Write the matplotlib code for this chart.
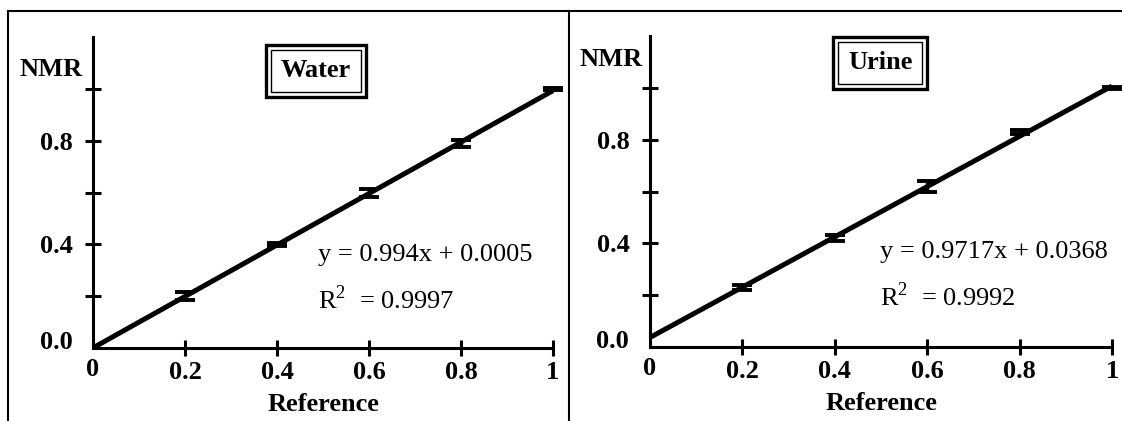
import matplotlib
matplotlib.use('Agg')
import matplotlib.pyplot as plt
from matplotlib.lines import Line2D

plt.rcParams['font.family'] = ['Liberation Serif', 'DejaVu Serif']
plt.rcParams['mathtext.fontset'] = 'custom'
plt.rcParams['mathtext.rm'] = 'Liberation Serif'

# Reference concentration vs NMR estimate, two matrices
ref_x = [0.2, 0.4, 0.6, 0.8, 1.0]

water_y = [0.20, 0.40, 0.60, 0.79, 1.00]
water_err = [0.015, 0.006, 0.015, 0.015, 0.005]
water_slope, water_icpt, water_r2 = 0.994, 0.0005, 0.9997

urine_y = [0.23, 0.42, 0.62, 0.83, 1.00]
urine_err = [0.008, 0.012, 0.02, 0.008, 0.005]
urine_slope, urine_icpt, urine_r2 = 0.9717, 0.0368, 0.9992

x_ticks = [0.2, 0.4, 0.6, 0.8, 1.0]
x_ticklabels = ['0.2', '0.4', '0.6', '0.8', '1']
y_ticks = [0.2, 0.4, 0.6, 0.8, 1.0]
y_ticklabels = ['', '0.4', '', '0.8', '']

W, H = 1122, 421
FS = 19
fig = plt.figure(figsize=(W / 100, H / 100), dpi=100)

PANELS = [
    # name, y, err, slope, icpt, r2, axes rect (px), nmr pos, box pos, eq pos
    ('Water', water_y, water_err, water_slope, water_icpt, water_r2,
     (93, 348, 460), (-0.023, 1.075), (0.485, 1.072), (0.489, 0.36, 0.186)),
    ('Urine', urine_y, urine_err, urine_slope, urine_icpt, urine_r2,
     (650, 347, 462), (-0.017, 1.11), (0.498, 1.098), (0.498, 0.367, 0.193)),
]

for name, y, err, slope, icpt, r2, (x0, y0, w), nmr, box, eq in PANELS:
    ax = fig.add_axes([x0 / W, (H - y0) / H, w / W, 1.2 * 258.8 / H])
    ax.set_xlim(0, 1)
    ax.set_ylim(0, 1.2)
    for side in ('top', 'right'):
        ax.spines[side].set_visible(False)
    ax.spines['bottom'].set_bounds(0, 1)
    for side in ('left', 'bottom'):
        ax.spines[side].set_linewidth(2.2)

    ax.plot([0, 1], [icpt, slope + icpt], color='black', linewidth=3.6,
            solid_capstyle='butt', clip_on=False)
    ax.errorbar(ref_x, y, yerr=err, fmt='none', ecolor='black',
                elinewidth=2.5, capsize=7, capthick=2.8, clip_on=False)

    ax.set_xticks(x_ticks)
    ax.set_xticklabels(x_ticklabels)
    ax.set_yticks(y_ticks)
    ax.set_yticklabels(y_ticklabels)
    ax.tick_params(direction='inout', length=11, width=2.2, labelsize=FS)
    ax.tick_params(axis='x', pad=4)
    ax.tick_params(axis='y', pad=9)
    for lab in ax.get_xticklabels() + ax.get_yticklabels():
        lab.set_fontweight('bold')

    # origin labels sit off the tick grid
    ax.text(0, -0.037, '0', ha='center', va='top', fontsize=FS,
            fontweight='bold', clip_on=False)
    ax.text(-0.045, 0.02, '0.0', ha='right', va='center', fontsize=FS,
            fontweight='bold', clip_on=False)

    ax.set_xlabel('Reference', fontsize=FS, fontweight='bold', labelpad=6)
    ax.text(nmr[0], nmr[1], 'NMR', ha='right', va='center', fontsize=FS,
            fontweight='bold', clip_on=False)

    # double-ruled title box
    ax.text(box[0], box[1], name, ha='center', va='center', fontsize=FS,
            fontweight='bold', clip_on=False,
            bbox=dict(boxstyle='square,pad=0.36', fc='white', ec='black', lw=1.0))
    ax.text(box[0], box[1], name, ha='center', va='center', fontsize=FS,
            fontweight='bold', color='none', clip_on=False,
            bbox=dict(boxstyle='square,pad=0.55', fc='none', ec='black', lw=2.4))

    ax.text(eq[0], eq[1], f'y = {slope}x + {icpt}', ha='left', va='center',
            fontsize=FS)
    ax.text(eq[0], eq[2], f'R$^2$  = {r2}', ha='left', va='center', fontsize=FS)

# outer frame: top rule, left edge, middle divider
frame = dict(color='black', linewidth=1.5, transform=fig.transFigure)
fig.add_artist(Line2D([8 / W, 1.0], [1 - 11 / H, 1 - 11 / H], **frame))
fig.add_artist(Line2D([8 / W, 8 / W], [0, 1 - 11 / H], **frame))
fig.add_artist(Line2D([569 / W, 569 / W], [0, 1 - 11 / H], **frame))

fig.savefig('out.png', dpi=100)
